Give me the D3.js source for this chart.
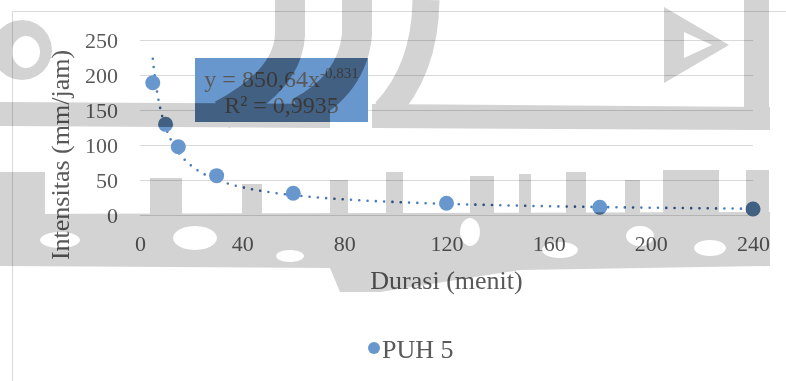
<!DOCTYPE html>
<html>
<head>
<meta charset="utf-8">
<script src="https://cdn.jsdelivr.net/npm/d3@7"></script>
<style>
  html, body { margin: 0; padding: 0; background: #fff; }
  svg { display: block; }
  text { font-family: "Liberation Serif", "Times New Roman", serif; }
</style>
</head>
<body>
<svg id="chart" width="786" height="381"></svg>
<script>
// Rainfall intensity vs. duration, return period 5 years
const durations   = [5, 10, 15, 30, 60, 120, 180, 240];            // menit
const intensities = [189, 129.5, 97.6, 56.2, 31.0, 16.7, 11.0, 8.6]; // mm/jam
const xTicks = [0, 40, 80, 120, 160, 200, 240];
const yTicks = [0, 50, 100, 150, 200, 250];
const seriesName = "PUH 5";
const xTitle = "Durasi (menit)";
const yTitle = "Intensitas (mm/jam)";

// Power trendline y = a * x^b
const fitCoef = 850.64;
const fitExp  = -0.831;
const fitR2   = 0.9935;

const W = 786, H = 381;
const markerColor = "#6897cd";
const trendColor  = "#4a7cbd";
const textColor   = "#595959";
const gridColor   = "#d9d9d9";
const emblemColor = "#d3d3d3";

const svg = d3.select("#chart");
const defs = svg.append("defs");
svg.append("rect").attr("width", W).attr("height", H).attr("fill", "#fff");

const x = d3.scaleLinear().domain([0, 240]).range([140, 753]);
const y = d3.scaleLinear().domain([0, 250]).range([215, 40]);

const comma = v => String(v).replace(".", ",");

// chart frame
svg.append("path")
  .attr("d", `M12.5,${H} V11.5 H${W}`)
  .attr("fill", "none").attr("stroke", gridColor).attr("stroke-width", 1);

// horizontal gridlines + y labels
const yAxis = d3.axisLeft(y).tickValues(yTicks)
  .tickSize(-(x.range()[1] - x.range()[0])).tickPadding(22);
const gy = svg.append("g").attr("transform", `translate(${x.range()[0]},0)`).call(yAxis);
gy.select(".domain").remove();
gy.selectAll(".tick line").attr("stroke", gridColor).attr("stroke-width", 1.2);
gy.selectAll(".tick text").attr("font-size", 22).attr("fill", textColor)
  .attr("font-family", "Liberation Serif, serif");

// x labels
const xAxis = d3.axisBottom(x).tickValues(xTicks).tickSize(0).tickPadding(20);
const gx = svg.append("g").attr("transform", `translate(0,${y(0)})`).call(xAxis);
gx.select(".domain").remove();
gx.selectAll(".tick text").attr("font-size", 22).attr("fill", textColor)
  .attr("font-family", "Liberation Serif, serif");

// axis titles
svg.append("text").attr("x", d3.mean(x.range())).attr("y", 289)
  .attr("text-anchor", "middle").attr("font-size", 26).attr("fill", textColor)
  .text(xTitle);
svg.append("text").attr("transform", "translate(69,155) rotate(-90)")
  .attr("text-anchor", "middle").attr("font-size", 26).attr("fill", textColor)
  .text(yTitle);

// trendline curve from the fitted equation
const trendX = d3.range(durations[0], durations[durations.length - 1] + 0.001, 0.5);
const trendLine = d3.line().x(d => x(d)).y(d => y(fitCoef * Math.pow(d, fitExp)));
const trendPath = trendLine(trendX);

// equation label box
const box = { x: 195, y: 58, w: 173, h: 64 };

function drawBlue(g, fillFn) {
  g.append("rect").attr("x", box.x).attr("y", box.y).attr("width", box.w).attr("height", box.h)
    .attr("fill", fillFn("box"));
  g.append("path").attr("d", trendPath).attr("fill", "none")
    .attr("stroke", fillFn("trend")).attr("stroke-width", 2.6)
    .attr("stroke-linecap", "round").attr("stroke-dasharray", "0 8.3");
  g.selectAll("circle.pt").data(durations).join("circle").attr("class", "pt")
    .attr("cx", d => x(d)).attr("cy", (d, i) => y(intensities[i]))
    .attr("r", 7.5).attr("fill", fillFn("marker"));
}

const plot = svg.append("g");
drawBlue(plot, k => k === "trend" ? trendColor : markerColor);

// equation text
const eq = svg.append("text").attr("x", box.x + box.w / 2).attr("y", 87)
  .attr("text-anchor", "middle").attr("font-size", 24).attr("fill", textColor);
eq.append("tspan").text(`y = ${comma(fitCoef)}x`);
eq.append("tspan").attr("dy", -9).attr("font-size", 15).text(comma(fitExp));
svg.append("text").attr("x", box.x + box.w / 2).attr("y", 113)
  .attr("text-anchor", "middle").attr("font-size", 24).attr("fill", textColor)
  .text(`R² = ${comma(fitR2)}`);

// legend
svg.append("circle").attr("cx", 374).attr("cy", 348).attr("r", 6).attr("fill", markerColor);
svg.append("text").attr("x", 382).attr("y", 358).attr("font-size", 26).attr("fill", textColor)
  .text(seriesName);

// mask of the blue marks, so the faint emblem deepens them
const mask = defs.append("mask").attr("id", "blueMask")
  .attr("maskUnits", "userSpaceOnUse").attr("x", 0).attr("y", 0)
  .attr("width", W).attr("height", H);
drawBlue(mask, () => "#fff");

// faint background emblem printed over the page
function blob(p, cx, cy, rx, ry) {
  p.moveTo(cx + rx, cy);
  for (let t = 1; t <= 24; t++) {
    const a = t / 24 * 2 * Math.PI;
    p.lineTo(cx + rx * Math.cos(a), cy + ry * Math.sin(a));
  }
  p.closePath();
}
function drawEmblem(g, color) {
  const ring = d3.path();
  blob(ring, 22, 50, 30, 30);
  blob(ring, 26, 52, 14, 16);
  g.append("path").attr("d", ring.toString()).attr("fill-rule", "evenodd").attr("fill", color);

  g.append("path").attr("d", "M0,102 L330,104 L330,128 L0,126 Z").attr("fill", color);
  g.append("path").attr("d", "M372,104 L770,107 L770,130 L372,128 Z").attr("fill", color);

  [["M290,0 L290,35 Q288,80 222,115", 30],
   ["M357,0 L357,35 Q352,85 300,112", 30],
   ["M426,0 Q425,70 385,112", 27]].forEach(([d, w]) =>
    g.append("path").attr("d", d).attr("fill", "none").attr("stroke", color).attr("stroke-width", w));

  g.append("rect").attr("x", 744).attr("y", 0).attr("width", 25).attr("height", 130).attr("fill", color);
  g.append("path").attr("d", "M664,7 L729,45 L664,83 Z M684,32 L684,58 L712,45 Z")
    .attr("fill-rule", "evenodd").attr("fill", color);

  // calligraphy band: body with a few openings, plus rising strokes
  const band = d3.path();
  band.moveTo(0, 214); band.lineTo(770, 212); band.lineTo(770, 266);
  band.lineTo(520, 270); band.lineTo(380, 292); band.lineTo(340, 292);
  band.lineTo(330, 268); band.lineTo(0, 266); band.closePath();
  [[195,238,22,12],[290,256,14,6],[470,232,10,14],[560,250,18,8],
   [640,236,14,10],[710,248,16,8],[60,240,20,8]].forEach(h => blob(band, ...h));
  g.append("path").attr("d", band.toString()).attr("fill-rule", "evenodd").attr("fill", color);

  [[0,172,45],[150,178,32],[242,184,20],[330,180,18],[386,172,17],[470,176,24],
   [519,174,12],[566,172,20],[625,180,15],[663,170,56],[746,170,23]].forEach(([x0, y0, w]) =>
    g.append("rect").attr("x", x0).attr("y", y0).attr("width", w).attr("height", 214 - y0 + 1)
      .attr("fill", color));
}

const emblem = svg.append("g").style("mix-blend-mode", "multiply");
drawEmblem(emblem, emblemColor);
const emblemDeep = svg.append("g").style("mix-blend-mode", "multiply").attr("mask", "url(#blueMask)");
drawEmblem(emblemDeep, "#c4c4c4");
</script>
</body>
</html>
